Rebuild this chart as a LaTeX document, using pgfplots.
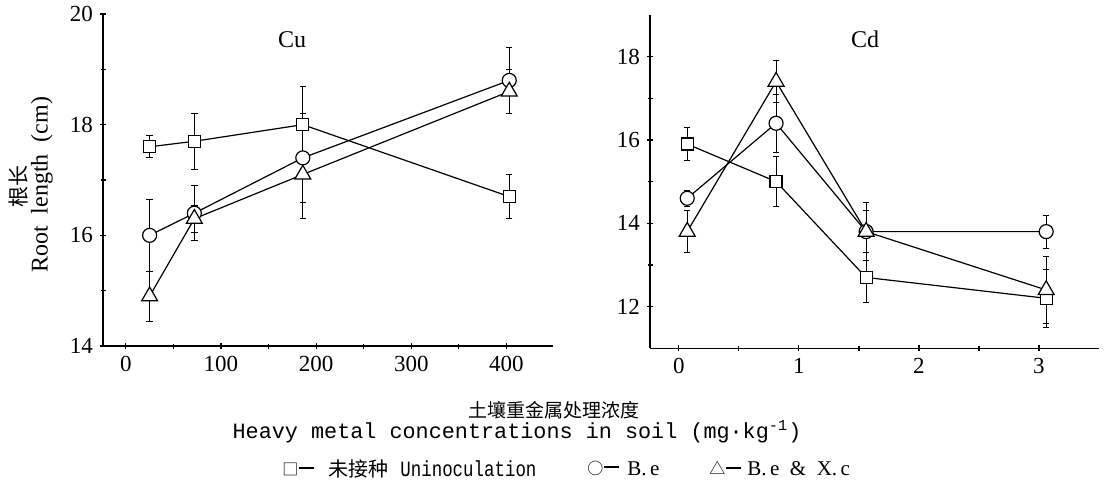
\documentclass[border=0pt]{standalone}
\usepackage{fontspec}
\setmainfont{Liberation Serif}
\newfontfamily\cjk{Noto Sans CJK SC}
\newfontfamily\mono{Liberation Mono}
\newfontfamily\monoc[FakeStretch=0.8]{Liberation Mono}
\usepackage{pgfplots}
\pgfplotsset{compat=1.18}
\pgfplotsset{
  myax/.style={
    scale only axis,
    set layers=standard,
    mark layer=axis foreground,
    axis lines=left,
    axis line style={-, line width=0.8pt},
    tick style={black, line width=0.6pt},
    major tick length=3pt,
    minor tick length=2.5pt,
    minor x tick num=1,
    minor y tick num=1,
    tick label style={font=\fontsize{11.5}{13}\selectfont},
    /pgf/number format/assume math mode=true,
    clip=false,
  },
  base/.style={black, line width=0.6pt, mark options={solid, fill=white, line width=0.6pt}},
  eb/.style={error bars/.cd, y dir=both, y explicit,
      error bar style={line width=0.4pt},
      error mark options={rotate=90, mark size=1.6pt, line width=0.4pt}},
  sq/.style={base, mark=square*, mark size=3pt, eb},
  ci/.style={base, mark=*, mark size=3.5pt, eb},
  tr/.style={base, mark=triangle*, mark size=4.6pt, eb},
}
\newcommand{\dash}{\hspace{0.5pt}\rule[3pt]{7.5pt}{0.8pt}}
\begin{document}
\begin{tikzpicture}
% ---------- Cu ----------
\begin{axis}[myax,
  at={(51.5pt,-173pt)}, anchor=south west,
  width=225pt, height=166pt,
  xmin=-24, xmax=449, ymin=14, ymax=20,
  xtick={0,100,200,300,400}, ytick={14,16,18,20}]
\addplot[sq] coordinates {(25,17.6) +- (0,0.2) (72,17.7) +- (0,0.5) (186,18.0) +- (0,0.7) (403,16.7) +- (0,0.4)};
\addplot[ci] coordinates {(25,16.0) +- (0,0.65) (72,16.4) +- (0,0.5) (186,17.4) +- (0,0.8) (403,18.8) +- (0,0.6)};
\addplot[tr] coordinates {(25,14.9) +- (0,0.45) (72,16.3) +- (0,0.25) (186,17.1) +- (0,0.8) (403,18.6) +- (0,0.4)};
\end{axis}
% ---------- Cd ----------
\begin{axis}[myax,
  at={(325pt,-174.15pt)}, anchor=south west,
  width=224.5pt, height=166.7pt,
  xmin=-0.24, xmax=3.5, ymin=11, ymax=19,
  xtick={0,1,2,3}, ytick={12,14,16,18}]
\addplot[sq] coordinates {(0.07,15.9) +- (0,0.4) (0.81,15.0) +- (0,0.6) (1.56,12.7) +- (0,0.6) (3.06,12.2) +- (0,0.7)};
\addplot[ci] coordinates {(0.07,14.6) +- (0,0.2) (0.81,16.4) +- (0,0.7) (1.56,13.8) +- (0,0.5) (3.06,13.8) +- (0,0.4)};
\addplot[tr] coordinates {(0.07,13.8) +- (0,0.5) (0.81,17.4) +- (0,0.5) (1.56,13.8) +- (0,0.7) (3.06,12.4) +- (0,0.8)};
\end{axis}
% titles
\node[font=\fontsize{12}{14}\selectfont] at (146pt,-20pt) {Cu};
\node[font=\fontsize{12}{14}\selectfont] at (432.5pt,-19.5pt) {Cd};
% y label
\node[rotate=90, font=\cjk\fontsize{10.5}{12}\selectfont] at (9.5pt,-93pt) {根长};
\node[rotate=90, font=\fontsize{12}{14}\selectfont] at (21pt,-92.5pt) {Root\ \ length\ \ (cm)};
% x label
\node[font=\cjk\fontsize{9.5}{11}\selectfont] at (277pt,-205pt) {土壤重金属处理浓度};
\node[font=\mono\fontsize{10.9}{12}\selectfont] at (258.5pt,-216pt) {Heavy metal concentrations in soil (mg·kg\textsuperscript{-1})};
% legend
\node[anchor=west, inner sep=0pt, font=\cjk\fontsize{8}{10}\selectfont] at (141pt,-234.5pt) {□\dash};
\node[anchor=west, inner sep=0pt, font=\cjk\fontsize{10}{11}\selectfont] at (164pt,-234.5pt) {未接种};
\node[anchor=west, inner sep=0pt, font=\monoc\fontsize{10.9}{12}\selectfont] at (200pt,-234.5pt) {Uninoculation};
\node[anchor=west, inner sep=0pt, font=\cjk\fontsize{8}{10}\selectfont] at (293.5pt,-234pt) {○\dash};
\node[anchor=west, inner sep=0pt, font=\fontsize{10.5}{12}\selectfont] at (313.5pt,-234.5pt) {B.\,e};
\node[anchor=west, inner sep=0pt, font=\cjk\fontsize{8}{10}\selectfont] at (354.5pt,-234pt) {△\dash};
\node[anchor=west, inner sep=0pt, font=\fontsize{10.5}{12}\selectfont] at (373.5pt,-234.5pt) {B.\,e\ \ \&\ \ X.\,c};
\pgfresetboundingbox
\useasboundingbox (0,0) rectangle (553pt,-243pt);
\end{tikzpicture}
\end{document}
